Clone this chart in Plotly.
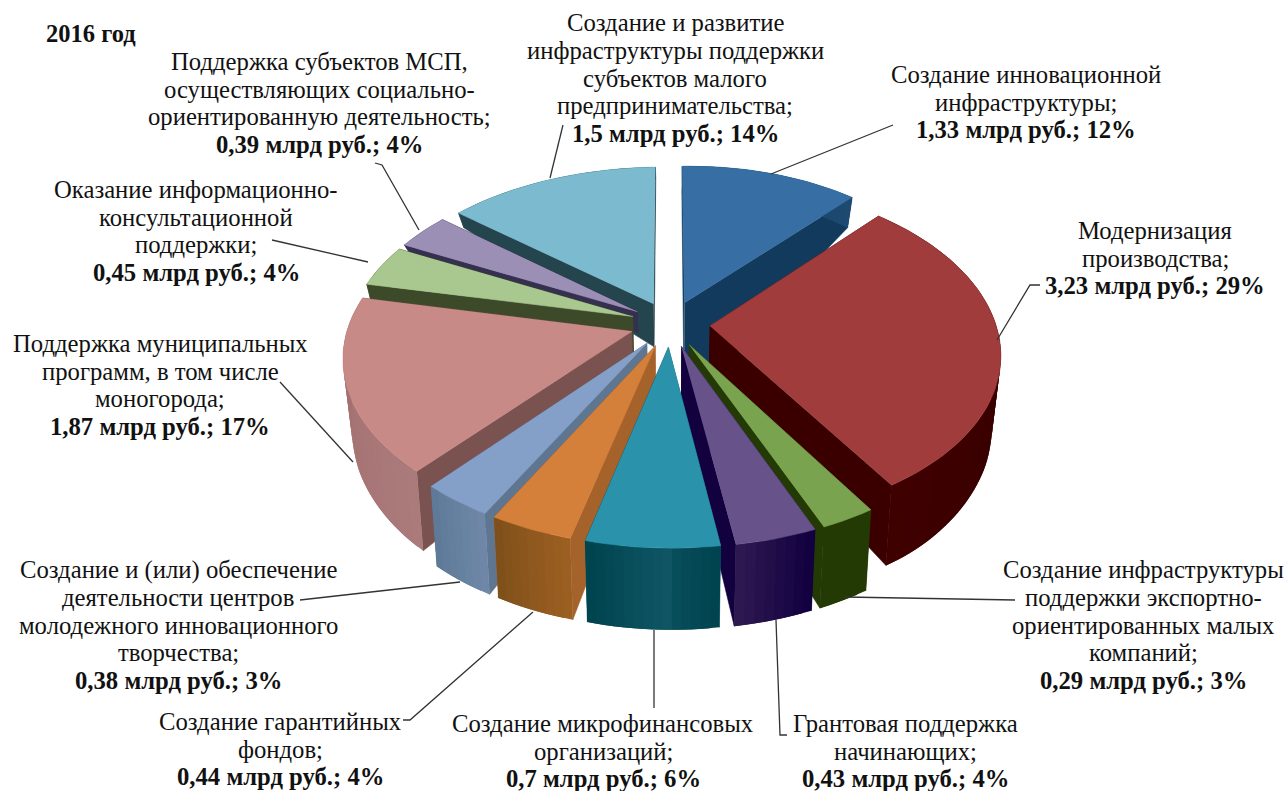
import math
import numpy as np
import plotly.graph_objects as go

categories = [
    ["Создание инновационной", "инфраструктуры;"],
    ["Модернизация", "производства;"],
    ["Создание инфраструктуры", "поддержки экспортно-", "ориентированных малых", "компаний;"],
    ["Грантовая поддержка", "начинающих;"],
    ["Создание микрофинансовых", "организаций;"],
    ["Создание гарантийных", "фондов;"],
    ["Создание и (или) обеспечение", "деятельности центров", "молодежного инновационного", "творчества;"],
    ["Поддержка муниципальных", "программ, в том числе", "моногорода;"],
    ["Оказание информационно-", "консультационной", "поддержки;"],
    ["Поддержка субъектов МСП,", "осуществляющих социально-", "ориентированную деятельность;"],
    ["Создание и развитие", "инфраструктуры поддержки", "субъектов малого", "предпринимательства;"],
]
values = [1.33, 3.23, 0.29, 0.43, 0.70, 0.44, 0.38, 1.87, 0.45, 0.39, 1.50]
percents = [12, 29, 3, 4, 6, 4, 3, 17, 4, 4, 14]
top_colors = ["#376ea3", "#a03c3c", "#7aa34f", "#67528a", "#2a93ab", "#d47f3a",
              "#84a0c8", "#c88a86", "#a9c88f", "#9c8fb5", "#7cbbcf"]
cut_colors = ["#123a5c", "#3a0000", "#243a05", "#13003f", "#0f5564", "#a5622a",
              "#5e7690", "#7a5250", "#3d4a2a", "#35304f", "#24444e"]
wall_a = ["#1d4a72", "#3f0000", "#243a05", "#2e1850", "#1a6070", "#9c5f22",
          "#6e87a8", "#ab7a7a", "#3d4a2a", "#35304f", "#24444e"]
wall_b = ["#123a5c", "#2f0000", "#243a05", "#120040", "#004450", "#80501a",
          "#5f7a98", "#a06c6c", "#3d4a2a", "#35304f", "#24444e"]
label_x = [1026, 1155, 1143, 905, 603, 280, 178, 160, 196, 319, 675]
label_y = [102, 258, 625, 751, 751, 749, 625, 385, 231, 103, 78]
depth_scale = [2.2, 1, 1, 1, 1, 1, 1, 1, 0.9, 0.45, 1]
draw_order = [10, 0, 9, 8, 7, 1, 6, 2, 5, 3, 4]

CX, CY, RX, RY, P, EXPLODE, LEAN = 670, 324, 284.5, 163, 0.15, 0.14, 0.975
LINE_STEP = 27.7


def thick(Y):
    return np.interp(Y, [-1.2, -0.8, -0.4, 0, 0.4, 0.8, 1.2], [12, 14, 28, 50, 72, 80, 82])


def top_pt(X, Y):
    f = 1 / (1 - P * Y)
    shear = 9 * Y if Y > 0 else 7 * abs(X) * Y
    return CX + RX * X * f + shear, CY + RY * Y * f - 4 * X


def bot_pt(X, Y, k):
    sx, sy = top_pt(X, Y)
    return CX + (sx - CX) * LEAN, sy + thick(Y) * k


def mix(a, b, t):
    ca = [int(a[i:i + 2], 16) for i in (1, 3, 5)]
    cb = [int(b[i:i + 2], 16) for i in (1, 3, 5)]
    return "rgb(%d,%d,%d)" % tuple(round(x + (y - x) * t) for x, y in zip(ca, cb))


fig = go.Figure()


def poly(pts, color, lw=0.6):
    fig.add_trace(go.Scatter(
        x=[p[0] for p in pts], y=[p[1] for p in pts], mode="lines", fill="toself",
        fillcolor=color, line=dict(color=color, width=lw), hoverinfo="skip", showlegend=False))


total = sum(values)
fracs = np.cumsum([0] + values) / total * 2 * math.pi
for i in draw_order:
    a0, a1 = fracs[i], fracs[i + 1]
    mid = (a0 + a1) / 2
    ox, oy = EXPLODE * math.sin(mid), -EXPLODE * math.cos(mid)
    th = np.linspace(a0, a1, max(6, int((a1 - a0) * 40)))
    arc = [(ox + math.sin(t), oy - math.cos(t)) for t in th]
    k = depth_scale[i]
    for edge in (arc[0], arc[-1]):
        poly([top_pt(ox, oy), top_pt(*edge), bot_pt(*edge, k), bot_pt(ox, oy, k)], cut_colors[i])
    n = len(arc)
    for j in range(n - 1):
        t = j / max(1, n - 2)
        if math.sin((th[j] + th[j + 1]) / 2) > 0:
            t = 1 - t
        e = min(j + 2, n - 1)
        poly([top_pt(*arc[j]), top_pt(*arc[e]), bot_pt(*arc[e], k), bot_pt(*arc[j], k)],
             mix(wall_a[i], wall_b[i], t), lw=0)
    poly([top_pt(ox, oy)] + [top_pt(*q) for q in arc], top_colors[i])

leaders = [
    [(771, 174), (893, 125)],
    [(997, 340), (1030, 285), (1040, 285)],
    [(845, 597), (1015, 600)],
    [(776, 620), (780, 735), (787, 735)],
    [(654, 630), (654, 708)],
    [(533, 612), (410, 720), (403, 720)],
    [(460, 582), (300, 600)],
    [(353, 462), (280, 382)],
    [(368, 262), (272, 240)],
    [(419, 230), (382, 165), (375, 163)],
    [(550, 178), (563, 125)],
]
for path in leaders:
    fig.add_trace(go.Scatter(x=[p[0] for p in path], y=[p[1] for p in path], mode="lines",
                             line=dict(color="#333333", width=1.3), hoverinfo="skip", showlegend=False))

FONT = dict(family="Liberation Serif", size=24.7, color="#111111")
for i, lines in enumerate(categories):
    val = f"{values[i]:.2f}".rstrip("0").replace(".", ",")
    rows = lines + [f"<b>{val} млрд руб.; {percents[i]}%</b>"]
    y0 = label_y[i] - LINE_STEP * (len(rows) - 1) / 2
    for r, row in enumerate(rows):
        fig.add_annotation(x=label_x[i], y=y0 + r * LINE_STEP, xref="x", yref="y", showarrow=False,
                           xanchor="center", yanchor="middle", font=FONT, text=row)
fig.add_annotation(x=44, y=33, xref="x", yref="y", showarrow=False, xanchor="left", yanchor="middle",
                   text="<b>2016 год</b>", font=dict(family="Liberation Serif", size=24.5, color="#111111"))

fig.update_layout(
    width=1288, height=791, margin=dict(l=0, r=0, t=0, b=0),
    paper_bgcolor="white", plot_bgcolor="white", showlegend=False,
    xaxis=dict(range=[0, 1288], visible=False, fixedrange=True),
    yaxis=dict(range=[791, 0], visible=False, fixedrange=True),
)
fig.write_html("out.html", config={"displayModeBar": False},
               post_script="document.body.style.margin='0';document.body.style.overflow='hidden';")
